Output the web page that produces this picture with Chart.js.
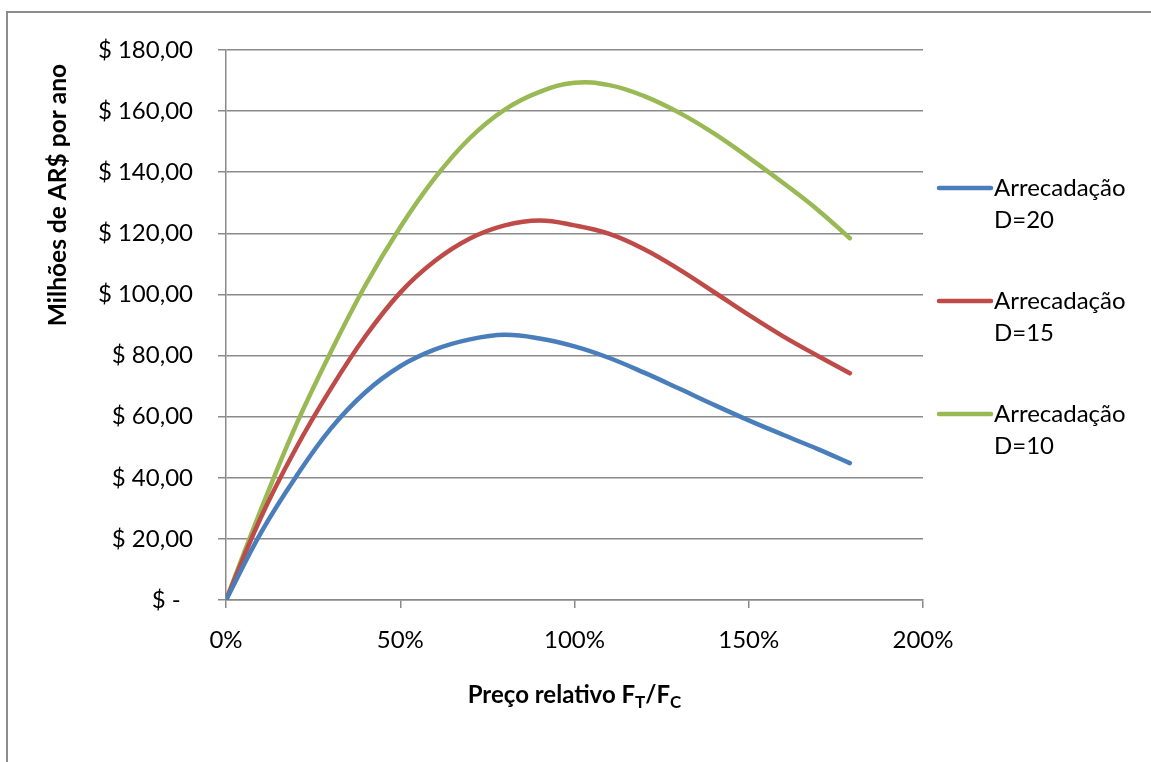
<!DOCTYPE html>
<html>
<head>
<meta charset="utf-8">
<script src="https://cdn.jsdelivr.net/npm/chart.js@4.4.0/dist/chart.umd.min.js"></script>
<style>
  body { margin: 0; background: #fff; }
  #frame { position: absolute; left: 6px; top: 11px; width: 1145px; height: 751px;
           border-left: 2px solid #8c8c8c; border-top: 2px solid #8c8c8c; }
  #wrap { position: absolute; left: 0; top: 0; width: 1151px; height: 762px; }
</style>
</head>
<body>
<div id="frame"></div>
<div id="wrap"><canvas id="myChart" width="1151" height="762"></canvas></div>
<script>
// relative price F_T/F_C in percent
var xValues = [0, 10, 20, 30, 40, 50, 60, 70, 80, 90, 100, 110, 120, 130, 140, 150, 160, 170, 179];

var seriesD20 = [0, 22, 40.2, 56, 68, 76.5, 82, 85.3, 86.8, 85.6, 83, 79.2, 74.4, 69.2, 63.9, 58.8, 54, 49.3, 44.8];
var seriesD15 = [0, 27, 49.5, 69, 86.3, 100.6, 111, 118.3, 122.6, 124.2, 122.6, 119.8, 114.8, 108.2, 100.8, 93.3, 86.2, 79.8, 74.2];
var seriesD10 = [0, 29.5, 57, 81, 103, 122, 138.2, 151.2, 160.5, 166.3, 169.3, 168.5, 164.9, 159.5, 152.7, 144.8, 136.4, 127.5, 118.4];

var seriesNames = [['Arrecadação', 'D=20'], ['Arrecadação', 'D=15'], ['Arrecadação', 'D=10']];
var seriesColors = ['#4a7ebb', '#be4b48', '#98b954'];

var yTickValues = [0, 20, 40, 60, 80, 100, 120, 140, 160, 180];
var yTickLabels = ['$ -  ', '$ 20,00', '$ 40,00', '$ 60,00', '$ 80,00', '$ 100,00', '$ 120,00', '$ 140,00', '$ 160,00', '$ 180,00'];
var xTickValues = [0, 50, 100, 150, 200];
var xTickLabels = ['0%', '50%', '100%', '150%', '200%'];

var yTitle = 'Milhões de AR$ por ano';
var FONT = 'Lato';
var gridColor = '#8a8a8a';

function toPoints(values) {
    return xValues.map(function (x, i) { return { x: x, y: values[i] }; });
}

function makeDataset(values, idx) {
    return {
        label: seriesNames[idx].join(' '),
        data: toPoints(values),
        showLine: true,
        borderColor: seriesColors[idx],
        backgroundColor: seriesColors[idx],
        borderWidth: 4.5,
        borderCapStyle: 'round',
        tension: 0.4,
        pointRadius: 0,
        fill: false
    };
}

// legend drawn to the right with two-line labels
var sideLegend = {
    id: 'sideLegend',
    afterDraw: function (chart) {
        var ctx = chart.ctx;
        var area = chart.chartArea;
        var x0 = area.right + 16;
        ctx.save();
        ctx.font = '24px ' + FONT;
        ctx.textBaseline = 'middle';
        ctx.textAlign = 'left';
        seriesNames.forEach(function (lines, i) {
            var y = area.top + 138 + i * 113;
            ctx.strokeStyle = seriesColors[i];
            ctx.lineWidth = 4.5;
            ctx.lineCap = 'round';
            ctx.beginPath();
            ctx.moveTo(x0, y);
            ctx.lineTo(x0 + 52, y);
            ctx.stroke();
            ctx.fillStyle = '#000';
            lines.forEach(function (t, j) {
                ctx.fillText(t, x0 + 55, y + j * 32);
            });
        });
        ctx.restore();
    }
};

// axis titles (x title needs subscripts)
var axisTitles = {
    id: 'axisTitles',
    afterDraw: function (chart) {
        var ctx = chart.ctx;
        var area = chart.chartArea;
        var parts = [
            { t: 'Preço relativo F', sub: false },
            { t: 'T', sub: true },
            { t: '/F', sub: false },
            { t: 'C', sub: true }
        ];
        var big = 'bold 24px ' + FONT, small = 'bold 17px ' + FONT;
        ctx.save();
        var total = 0;
        parts.forEach(function (p) {
            ctx.font = p.sub ? small : big;
            p.w = ctx.measureText(p.t).width;
            total += p.w;
        });
        var x = (area.left + area.right) / 2 - total / 2;
        var base = area.bottom + 103;
        ctx.fillStyle = '#000';
        ctx.textBaseline = 'alphabetic';
        ctx.textAlign = 'left';
        parts.forEach(function (p) {
            ctx.font = p.sub ? small : big;
            ctx.fillText(p.t, x, p.sub ? base + 5 : base);
            x += p.w;
        });

        // y title, rotated
        ctx.translate(58, area.top + 145);
        ctx.rotate(-Math.PI / 2);
        ctx.font = 'bold 24.5px ' + FONT;
        ctx.textAlign = 'center';
        ctx.textBaseline = 'middle';
        ctx.fillText(yTitle, 0, 0);
        ctx.restore();
    }
};

var ctx = document.getElementById('myChart').getContext('2d');
var myChart = new Chart(ctx, {
    type: 'scatter',
    data: {
        datasets: [
            makeDataset(seriesD20, 0),
            makeDataset(seriesD15, 1),
            makeDataset(seriesD10, 2)
        ]
    },
    options: {
        responsive: false,
        animation: false,
        layout: { padding: { left: 44, top: 50, right: 228, bottom: 62 } },
        plugins: {
            legend: { display: false },
            tooltip: { enabled: false }
        },
        scales: {
            x: {
                type: 'linear',
                min: 0,
                max: 200,
                afterBuildTicks: function (scale) {
                    scale.ticks = xTickValues.map(function (v) { return { value: v }; });
                },
                afterFit: function (scale) { scale.height = 100; },
                grid: { drawOnChartArea: false, drawTicks: true, tickLength: 8, color: gridColor, lineWidth: 1.5 },
                border: { display: true, color: gridColor, width: 1.5 },
                ticks: {
                    color: '#000',
                    padding: 18,
                    font: { family: FONT, size: 24 },
                    maxRotation: 0,
                    callback: function (v) { return xTickLabels[xTickValues.indexOf(v)]; }
                }
            },
            y: {
                min: 0,
                max: 180,
                afterBuildTicks: function (scale) {
                    scale.ticks = yTickValues.map(function (v) { return { value: v }; });
                },
                afterFit: function (scale) { scale.width = 182; },
                grid: { drawTicks: true, tickLength: 8, color: gridColor, lineWidth: 1.5 },
                border: { display: true, color: gridColor, width: 1.5 },
                ticks: {
                    color: '#000',
                    padding: 25,
                    font: { family: FONT, size: 24 },
                    callback: function (v) { return yTickLabels[yTickValues.indexOf(v)]; }
                }
            }
        }
    },
    plugins: [sideLegend, axisTitles]
});
</script>
</body>
</html>
